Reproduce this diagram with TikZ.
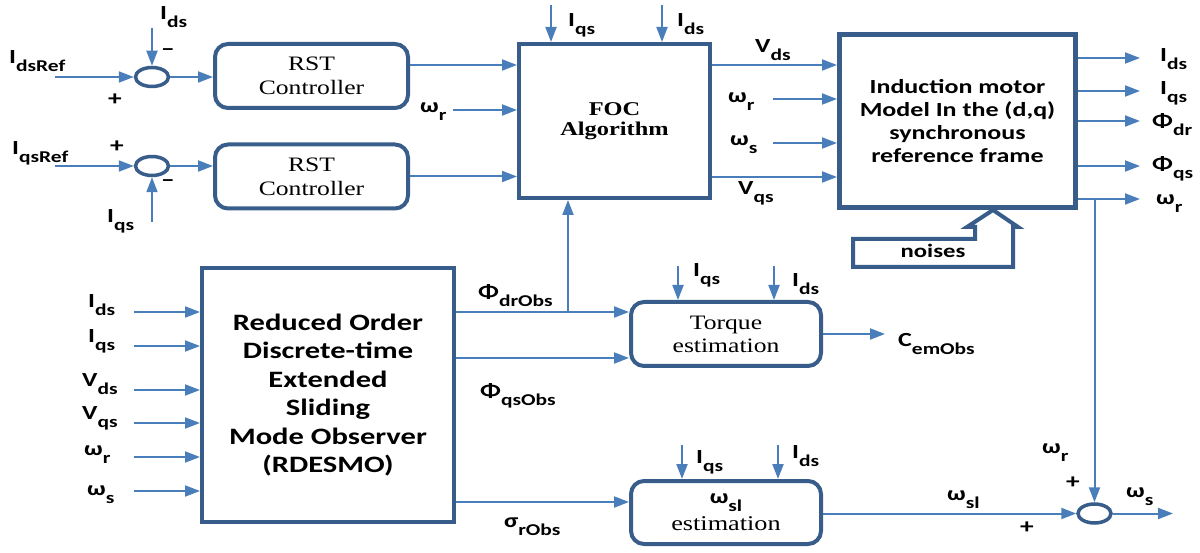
\documentclass[tikz,border=0pt]{standalone}
\usepackage{fontspec}
\usetikzlibrary{arrows.meta,shapes.geometric,calc}
\newfontfamily\lblfont{Carlito}[FakeStretch=1.3,BoldFont={Carlito Bold}]
\newfontfamily\boxserif{Liberation Serif}[FakeStretch=1.25,BoldFont={Liberation Serif Bold}]
\definecolor{linec}{RGB}{74,126,187}
\definecolor{boxc}{RGB}{56,93,138}
% symbol with a lowered, slightly smaller index
\newcommand{\sg}[2]{#1\raisebox{-8pt}{\fontsize{16.5}{16.5}\selectfont #2}}

\begin{document}
\begin{tikzpicture}[x=1pt,y=-1pt,
  conn/.style={draw=linec,line width=2pt,-{Triangle[length=15pt,width=11pt]}},
  lbl/.style={inner sep=0pt,anchor=base west,font=\lblfont\bfseries\fontsize{20}{20}\selectfont},
  sgn/.style={inner sep=0pt,font=\lblfont\bfseries\fontsize{21}{21}\selectfont},
  sumj/.style={ellipse,draw=boxc,line width=3.5pt,minimum width=33pt,minimum height=19pt,inner sep=0pt},
  rbox/.style={draw=boxc,line width=4pt,rounded corners=13pt,align=center,inner sep=0pt,
               font=\boxserif\fontsize{20.5}{24}\selectfont},
  sbox/.style={draw=boxc,line width=4pt,align=center,inner sep=0pt},
]
\useasboundingbox (0,0) rectangle (1200,553);

% ---------- blocks ----------
\node[sumj] (s1) at (152,77) {};
\node[sumj] (s2) at (152,166) {};
\node[sumj] (s3) at (1094.5,513.5) {};

\node[rbox,minimum width=193pt,minimum height=64pt] (rst1) at (311.5,76) {RST\\Controller};
\node[rbox,minimum width=193pt,minimum height=64pt] (rst2) at (311.5,176.5) {RST\\Controller};

\node[sbox,minimum width=191pt,minimum height=154pt,
      font=\boxserif\bfseries\fontsize{19.5}{20.5}\selectfont] (foc) at (614.5,121) {FOC\\Algorithm};

\node[sbox,line width=5pt,minimum width=236pt,minimum height=173pt,
      font=\lblfont\bfseries\fontsize{20}{23}\selectfont] (im) at (957.5,121)
      {Induction motor\\Model In the (d,q)\\synchronous\\reference frame};

\node[sbox,minimum width=252pt,minimum height=254pt,
      font=\lblfont\bfseries\fontsize{23.5}{28.5}\selectfont] (obs) at (328,395)
      {Reduced Order\\Discrete-time\\Extended\\Sliding\\Mode Observer\\(RDESMO)};

\node[rbox,minimum width=190pt,minimum height=64pt,
      font=\boxserif\fontsize{20.5}{23}\selectfont] (torque) at (726,334) {Torque\\estimation};
\node[rbox,minimum width=190pt,minimum height=63pt,
      font=\boxserif\fontsize{21}{27}\selectfont] (slip) at (726,512.5)
      {{\lblfont\bfseries\fontsize{20}{20}\selectfont\sg{ω}{sl}}\\estimation};

% noise block arrow pointing into the motor model
\draw[draw=boxc,line width=4pt,line join=miter]
  (853,239) -- (975,239) -- (975,227) -- (967,227) -- (993,210) -- (1018,227)
  -- (1013,227) -- (1013,267) -- (853,267) -- cycle;
\node[inner sep=0pt,font=\lblfont\bfseries\fontsize{19}{19}\selectfont] (noise) at (933,251) {noises};

% ---------- free ends and levels ----------
\coordinate (idsref) at (55,77);
\coordinate (iqsref) at (55,166);
\coordinate (ids1) at (152,28);
\coordinate (iqs2) at (152,222);
\coordinate (r1o) at ($(rst1.east)+(0,-11)$);
\coordinate (wrf) at (453,110);
\coordinate (iqsf) at (551,5);
\coordinate (idsf) at (662,5);
\coordinate (vds) at ($(foc.east)+(0,-56)$);
\coordinate (vqs) at ($(foc.east)+(0,56)$);
\coordinate (wrim) at (773,99);
\coordinate (wsim) at (773,143);
\coordinate (e1) at (1140,58);
\coordinate (e2) at (1140,91);
\coordinate (e3) at (1140,121);
\coordinate (e4) at (1140,166);
\coordinate (e5) at (1140,199);
\coordinate (i1) at (134,312);
\coordinate (i2) at (134,346);
\coordinate (i3) at (134,390);
\coordinate (i4) at (134,423);
\coordinate (i5) at (134,457);
\coordinate (i6) at (134,491);
\coordinate (pd) at (568,312);
\coordinate (yq) at (0,358);
\coordinate (ys) at (0,502);
\coordinate (ti1) at (678,266);
\coordinate (ti2) at (774,266);
\coordinate (si1) at (682,445);
\coordinate (si2) at (778,445);
\coordinate (cem) at (885,334);
\coordinate (wsout) at (1173,513.5);

% ---------- connectors ----------
\draw[conn] (idsref) -- (s1);
\draw[conn] (ids1) -- (s1);
\draw[conn] (s1) -- (s1 -| rst1.west);
\draw[conn] (iqsref) -- (s2);
\draw[conn] (iqs2) -- (s2);
\draw[conn] (s2) -- (s2 -| rst2.west);

\draw[conn] (r1o) -- (r1o -| foc.west);
\draw[conn] (rst2.east) -- (rst2.east -| foc.west);
\draw[conn] (wrf) -- (wrf -| foc.west);
\draw[conn] (iqsf) -- (iqsf |- foc.north);
\draw[conn] (idsf) -- (idsf |- foc.north);

\draw[conn] (vds) -- (vds -| im.west);
\draw[conn] (wrim) -- (wrim -| im.west);
\draw[conn] (wsim) -- (wsim -| im.west);
\draw[conn] (vqs) -- (vqs -| im.west);

\foreach \e in {e1,e2,e3,e4,e5} \draw[conn] (im.east |- \e) -- (\e);

\foreach \i in {i1,i2,i3,i4,i5,i6} \draw[conn] (\i) -- (\i -| obs.west);

\draw[conn] (obs.east |- pd) -- (torque.west |- pd);
\draw[conn] (pd) -- (pd |- foc.south);
\draw[conn] (obs.east |- yq) -- (torque.west |- yq);
\draw[conn] (obs.east |- ys) -- (slip.west |- ys);

\draw[conn] (ti1) -- (ti1 |- torque.north);
\draw[conn] (ti2) -- (ti2 |- torque.north);
\draw[conn] (si1) -- (si1 |- slip.north);
\draw[conn] (si2) -- (si2 |- slip.north);
\draw[conn] (torque.east |- cem) -- (cem);

\draw[conn] (slip.east |- s3) -- (s3);
\draw[conn] (s3 |- e5) -- (s3);
\draw[conn] (s3) -- (wsout);

% ---------- labels ----------
\node[lbl] (l1) at (160,20) {\sg{I}{ds}};
\node[lbl] (l2) at (9,64) {\sg{I}{dsRef}};
\node[lbl] (l3) at (12,155) {\sg{I}{qsRef}};
\node[lbl] (l4) at (107,223) {\sg{I}{qs}};
\node[sgn] (p1) at (115,100) {+};
\node[sgn] (m1) at (168,52) {–};
\node[sgn] (p2) at (117,147) {+};
\node[sgn] (m2) at (168,183) {–};

\node[lbl] (l5) at (568,27) {\sg{I}{qs}};
\node[lbl] (l6) at (677,27) {\sg{I}{ds}};
\node[lbl] (l7) at (420,113) {\sg{ω}{r}};
\node[lbl] (l8) at (755,53) {\sg{V}{ds}};
\node[lbl] (l9) at (728,103) {\sg{ω}{r}};
\node[lbl] (l10) at (730,146) {\sg{ω}{s}};
\node[lbl] (l11) at (738,195) {\sg{V}{qs}};

\node[lbl] (l12) at (1160,62) {\sg{I}{ds}};
\node[lbl] (l13) at (1160,95) {\sg{I}{qs}};
\node[lbl] (l14) at (1152,128) {\sg{Φ}{dr}};
\node[lbl] (l15) at (1152,171) {\sg{Φ}{qs}};
\node[lbl] (l16) at (1156,205) {\sg{ω}{r}};

\node[lbl] (l17) at (88,308) {\sg{I}{ds}};
\node[lbl] (l18) at (88,343) {\sg{I}{qs}};
\node[lbl] (l19) at (82,387) {\sg{V}{ds}};
\node[lbl] (l20) at (82,420) {\sg{V}{qs}};
\node[lbl] (l21) at (84,455) {\sg{ω}{r}};
\node[lbl] (l22) at (87,495) {\sg{ω}{s}};

\node[lbl] (l23) at (478,299) {\sg{Φ}{drObs}};
\node[lbl] (l24) at (480,397) {\sg{Φ}{qsObs}};
\node[lbl] (l25) at (504,527) {\sg{σ}{rObs}};

\node[lbl] (l26) at (693,277) {\sg{I}{qs}};
\node[lbl] (l27) at (792,287) {\sg{I}{ds}};
\node[lbl] (l28) at (696,463) {\sg{I}{qs}};
\node[lbl] (l29) at (792,458) {\sg{I}{ds}};
\node[lbl] (l30) at (898,347) {\sg{C}{emObs}};

\node[lbl] (l31) at (947,500) {\sg{ω}{sl}};
\node[lbl] (l32) at (1042,453) {\sg{ω}{r}};
\node[lbl] (l33) at (1126,497) {\sg{ω}{s}};
\node[sgn] (p3) at (1073,483) {+};
\node[sgn] (p4) at (1027,528) {+};
\end{tikzpicture}
\end{document}
